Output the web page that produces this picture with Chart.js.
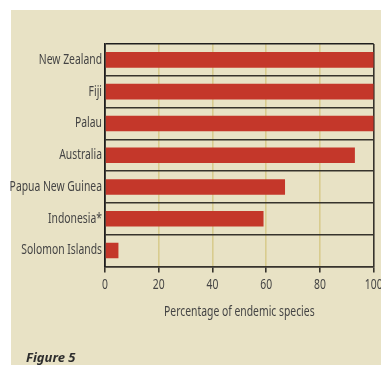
<!DOCTYPE html>
<html>
<head>
<meta charset="utf-8">
<script src="https://cdn.jsdelivr.net/npm/chart.js@4"></script>
<style>
  body { margin: 0; background: #fff; }
  #panel { position: absolute; left: 11px; top: 10px; width: 370px; height: 355px; background: #e8e2c5; }
  #chart { position: absolute; left: 0; top: 0; }
  #fig { position: absolute; left: 26px; top: 350px; font: italic bold 13px 'Noto Sans', sans-serif; font-stretch: condensed; color: #2e2e2e; line-height: 14px; }
</style>
</head>
<body>
<div id="panel"></div>
<canvas id="chart" width="381" height="365"></canvas>
<div id="fig">Figure 5</div>
<script>
const countries = ['New Zealand', 'Fiji', 'Palau', 'Australia', 'Papua New Guinea', 'Indonesia*', 'Solomon Islands'];
const endemicPct = [100, 100, 100, 93, 67, 59, 5];
const xTicks = [0, 20, 40, 60, 80, 100];

const labelFont = { family: "'Noto Sans', sans-serif", size: 14 };
const dark = '#36332c';
const squeeze = 0.74; // canvas won't pick the condensed face, so squeeze the text by hand

const ctx = document.getElementById('chart').getContext('2d');
const baseFillText = ctx.fillText;
ctx.fillText = function(text, x, y) {
  this.save();
  this.translate(x, y);
  this.scale(squeeze, 1);
  baseFillText.call(this, text, 0, 0);
  this.restore();
};

const chart = new Chart(ctx, {
  type: 'bar',
  data: {
    labels: countries,
    datasets: [{
      data: endemicPct,
      backgroundColor: '#c4372a',
      borderWidth: 0,
      categoryPercentage: 0.49,
      barPercentage: 1
    }]
  },
  options: {
    indexAxis: 'y',
    responsive: false,
    animation: false,
    devicePixelRatio: 1,
    layout: { padding: { top: 44, right: 7.3, bottom: 45, left: 0 } },
    plugins: {
      legend: { display: false },
      tooltip: { enabled: false }
    },
    scales: {
      x: {
        min: 0,
        max: 100,
        afterBuildTicks: function(scale) {
          scale.ticks = xTicks.map(v => ({ value: v }));
        },
        afterFit: function(scale) {
          scale.paddingLeft = 0;
          scale.paddingRight = 0;
        },
        ticks: {
          color: '#444',
          padding: 4,
          font: labelFont
        },
        grid: {
          color: c => (c.tick && (c.tick.value === 0 || c.tick.value === 100)) ? dark : '#d8cc8e',
          lineWidth: 1.6,
          tickLength: 6,
          tickColor: dark
        },
        border: { color: dark, width: 1.6 },
        title: {
          display: true,
          text: 'Percentage of endemic species',
          color: '#444',
          padding: { top: 6, bottom: 0 },
          font: labelFont
        }
      },
      y: {
        afterFit: function(scale) {
          scale.width = 105;
        },
        ticks: {
          color: '#444',
          padding: 3,
          font: labelFont
        },
        grid: {
          color: c => c.index === 0 ? '#1e1e1e' : dark,
          lineWidth: 1.6,
          drawTicks: false
        },
        border: { color: '#1e1e1e', width: 1.6 }
      }
    }
  }
});
</script>
</body>
</html>
